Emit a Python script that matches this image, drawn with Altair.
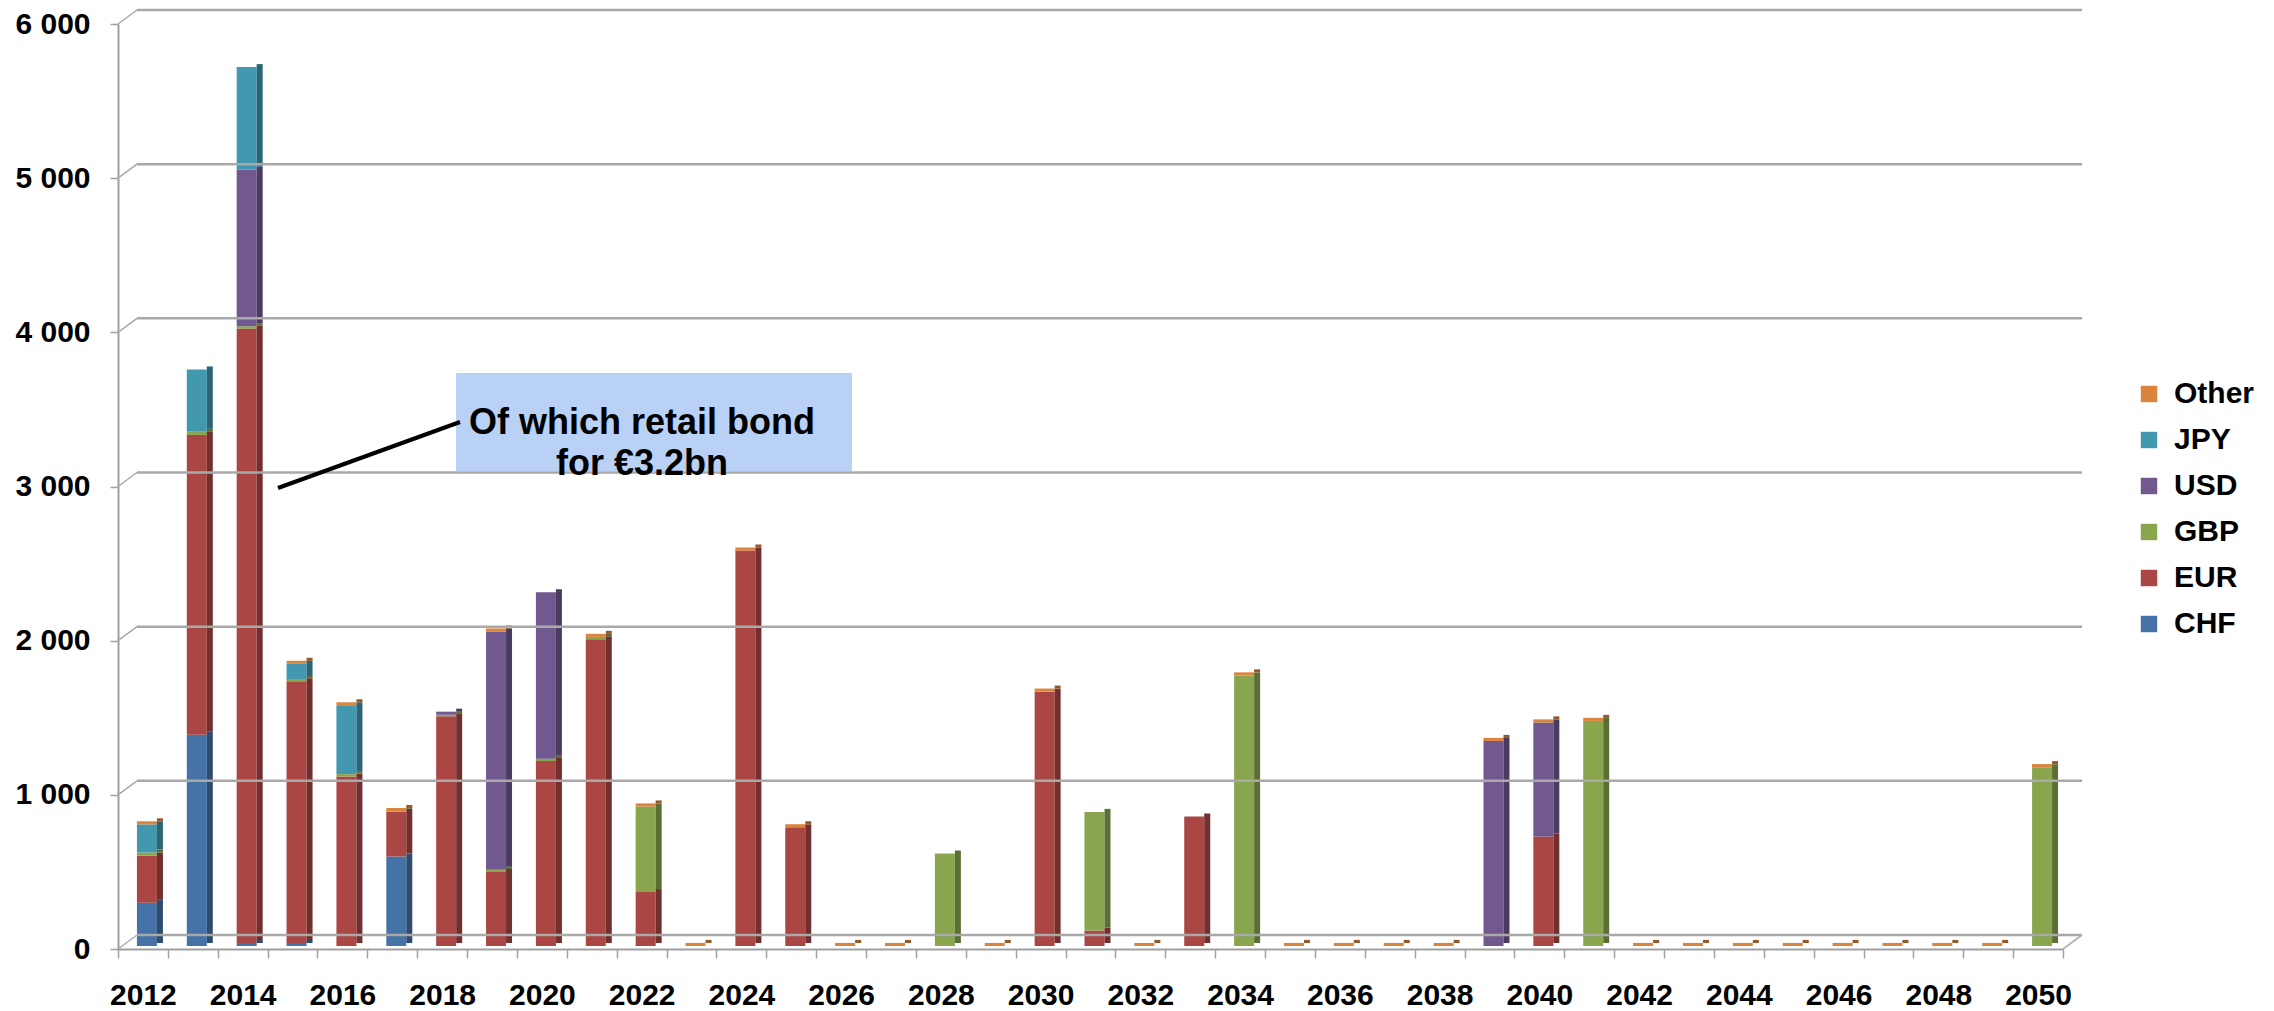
import altair as alt
import pandas as pd

# ---------------- data ----------------
years = list(range(2012, 2051))
CHF = [280, 1370, 20, 20, 0, 580, 0, 0, 0, 0, 0, 0, 0, 0, 0, 0, 0, 0, 0, 0,
       0, 0, 0, 0, 0, 0, 0, 0, 0, 0, 0, 0, 0, 0, 0, 0, 0, 0, 0]
EUR = [307, 1945, 3985, 1697, 1100, 290, 1490, 480, 1200, 1990, 350, 0, 2565, 770, 0, 0, 0, 0, 1650, 100,
       0, 840, 0, 0, 0, 0, 0, 0, 710, 0, 0, 0, 0, 0, 0, 0, 0, 0, 0]
GBP = [20, 20, 15, 15, 15, 5, 10, 15, 15, 15, 555, 0, 0, 0, 0, 0, 600, 0, 0, 770,
       0, 0, 1755, 0, 0, 0, 0, 0, 0, 1460, 0, 0, 0, 0, 0, 0, 0, 0, 1160]
USD = [0, 0, 1016, 0, 0, 0, 20, 1545, 1080, 0, 0, 0, 0, 0, 0, 0, 0, 0, 0, 0,
       0, 0, 0, 0, 0, 0, 0, 1330, 740, 0, 0, 0, 0, 0, 0, 0, 0, 0, 0]
JPY = [182, 405, 665, 98, 446, 0, 0, 0, 0, 0, 0, 0, 0, 0, 0, 0, 0, 0, 0, 0,
       0, 0, 0, 0, 0, 0, 0, 0, 0, 0, 0, 0, 0, 0, 0, 0, 0, 0, 0]
Other = [20, 0, 0, 20, 20, 20, 0, 20, 0, 20, 20, 20, 20, 20, 20, 20, 0, 20, 20, 0,
         20, 0, 20, 20, 20, 20, 20, 20, 20, 20, 20, 20, 20, 20, 20, 20, 20, 20, 20]

series_names = ["CHF", "EUR", "GBP", "USD", "JPY", "Other"]
series_values = [CHF, EUR, GBP, USD, JPY, Other]
side_colors = ["#2E4C70", "#722F2D", "#5B6E33", "#4B3B60", "#2B6576", "#94582A"]

legend_order = ["Other", "JPY", "USD", "GBP", "EUR", "CHF"]
legend_colors = ["#DB843D", "#4198AF", "#71588F", "#89A54E", "#AA4643", "#4572A7"]

y_ticks = [0, 1000, 2000, 3000, 4000, 5000, 6000]
annotation_text = "Of which retail bond\nfor €3.2bn"

rows = []
for i, (name, vals) in enumerate(zip(series_names, series_values)):
    for y, v in zip(years, vals):
        rows.append({"year": y, "currency": name, "value": v, "ord": i,
                     "side": side_colors[i]})
df = pd.DataFrame(rows)
grid_df = pd.DataFrame({"value": y_ticks})
zero_df = pd.DataFrame({"value": [0]})

W, H = 1945, 925
DX, DY = 19, 14  # 3D back-wall offset
FONT = "Liberation Sans"

y_scale = alt.Scale(domain=[0, 6000], nice=False)
x_scale = alt.Scale(paddingInner=0, paddingOuter=0)

y_axis = alt.Axis(
    values=y_ticks, labelFont=FONT, labelFontSize=30, labelFontWeight="bold",
    labelColor="black", labelPadding=20, tickSize=8, tickColor="#a0a0a0",
    tickWidth=1.5, domainColor="#a0a0a0", domainWidth=2, grid=False,
    labelExpr="replace(format(datum.value, ','), ',', ' ')",
)
x_axis = alt.Axis(
    labelAngle=0, labelFont=FONT, labelFontSize=30, labelFontWeight="bold",
    labelColor="black", labelPadding=22,
    labelExpr="datum.value % 2 == 0 ? datum.label : ''",
    tickBand="extent", tickSize=9, tickColor="#a0a0a0", tickWidth=1.5,
    domainColor="#a0a0a0", domainWidth=2, grid=False,
)

x_enc = alt.X("year:O", scale=x_scale, title=None, axis=x_axis)
y_enc = alt.Y("value:Q", scale=y_scale, title=None, stack="zero", axis=y_axis)
y_plain = alt.Y("value:Q", scale=y_scale, title=None, axis=y_axis)

front = alt.Chart(df).mark_bar(width=20, xOffset=4, yOffset=-3).encode(
    x=x_enc, y=y_enc,
    color=alt.Color(
        "currency:N",
        scale=alt.Scale(domain=legend_order, range=legend_colors),
        legend=alt.Legend(
            title=None, orient="none", legendX=2016, legendY=355,
            symbolType="square", symbolSize=270, symbolStrokeWidth=0,
            labelFont=FONT, labelFontSize=30, labelFontWeight="bold",
            labelColor="black", labelOffset=10, rowPadding=16, padding=0,
        ),
    ),
    order=alt.Order("ord:Q", sort="ascending"),
)

side = alt.Chart(df).mark_bar(width=6, xOffset=17, yOffset=-6).encode(
    x=x_enc, y=y_enc,
    color=alt.Color("side:N", scale=None, legend=None),
    order=alt.Order("ord:Q", sort="ascending"),
)

# back wall gridlines
grid = alt.Chart(grid_df).mark_rule(color="#a9a9a9", strokeWidth=2.5, yOffset=-DY).encode(
    y=y_plain, x=alt.value(DX), x2=alt.value(W + DX),
)
grid_conn = alt.Chart(grid_df).mark_rule(color="#a9a9a9", strokeWidth=1.5, y2Offset=-DY).encode(
    y=y_plain, y2="value:Q", x=alt.value(0), x2=alt.value(DX),
)
floor_right = alt.Chart(zero_df).mark_rule(color="#b5b5b5", strokeWidth=2, y2Offset=-DY).encode(
    y=y_plain, y2="value:Q", x=alt.value(W), x2=alt.value(W + DX),
)

box = alt.Chart(zero_df).mark_rect(color="#B9D1F5").encode(
    x=alt.value(338), x2=alt.value(734), y=alt.value(349), y2=alt.value(447),
)
label = alt.Chart(zero_df).mark_text(
    text=annotation_text, lineBreak="\n", font=FONT, fontSize=36, fontWeight="bold",
    color="black", align="center", baseline="middle", lineHeight=41,
).encode(x=alt.value(524), y=alt.value(399))
pointer = alt.Chart(zero_df).mark_rule(color="black", strokeWidth=4).encode(
    x=alt.value(160), y=alt.value(464), x2=alt.value(342), y2=alt.value(398),
)

chart = alt.layer(front, side, grid, grid_conn, floor_right, box, pointer, label).resolve_scale(
    color="independent"
).properties(
    width=W, height=H,
    autosize=alt.AutoSizeParams(type="none"),
    padding={"left": 118, "top": 24, "right": 211, "bottom": 62},
    background="white",
).configure_view(stroke=None)

chart.save("out.html", embed_options={"renderer": "svg", "actions": False})
